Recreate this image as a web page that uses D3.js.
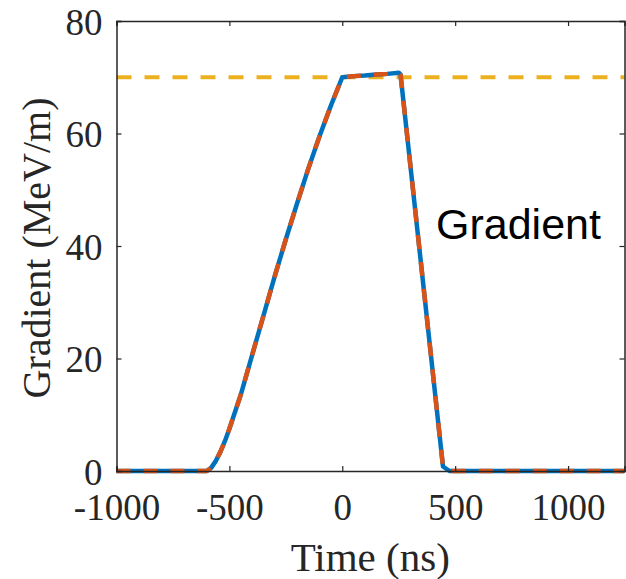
<!DOCTYPE html>
<html>
<head>
<meta charset="utf-8">
<script src="https://cdn.jsdelivr.net/npm/d3@7"></script>
<style>
    body { margin: 0; background: #fff; }
    svg { display: block; }
</style>
</head>
<body>
<svg id="chart" width="626" height="579"></svg>
<script>
// values
var time_ns = [-1000, -600, -580, -560, -540, -520, -500, -450, -400, -350, -300, -250, -200, -150, -100, -50, 0,
               50, 100, 150, 200, 250, 258, 446, 475, 1250];
var gradient = [0, 0, 0.6, 1.8, 3.4, 5.3, 7.5, 13.5, 20.5, 27.5, 34.5, 41.2, 47.6, 53.8, 59.6, 65, 70,
                70.2, 70.3, 70.5, 70.6, 70.8, 70.5, 0.8, 0, 0];
var target = 70;
var x_ticks = [-1000, -500, 0, 500, 1000];
var y_ticks = [0, 20, 40, 60, 80];
var x_domain = [-1000, 1250],
    y_domain = [0, 80];

function draw() {
    var svg = d3.select("#chart"),
        margins = {"left": 116.5, "right": 1.5, "top": 21, "bottom": 108},
        width = 626, height = 579,
        tick_font = "'Liberation Serif', 'Times New Roman', serif",
        frame = "#262626";

    var x = d3.scaleLinear().domain(x_domain).range([margins.left, width - margins.right]),
        y = d3.scaleLinear().domain(y_domain).range([height - margins.bottom, margins.top]);

    var data = time_ns.map((t, i) => [t, gradient[i]]);

    var line = d3.line().x(d => x(d[0])).y(d => y(d[1]));

    // target level
    svg.append("line")
        .attr("x1", x(x_domain[0])).attr("x2", x(x_domain[1]))
        .attr("y1", y(target)).attr("y2", y(target))
        .attr("stroke", "#EDB120").attr("stroke-width", 4)
        .attr("stroke-dasharray", "15,13");

    // two overlaid traces (blue solid + orange dashed)
    svg.append("path").datum(data)
        .attr("d", line).attr("fill", "none")
        .attr("stroke", "#0072BD").attr("stroke-width", 4.5)
        .attr("stroke-linejoin", "round");
    svg.append("path").datum(data)
        .attr("d", line).attr("fill", "none")
        .attr("stroke", "#D95319").attr("stroke-width", 4.5)
        .attr("stroke-linejoin", "round")
        .attr("stroke-dasharray", "14,13");

    // axes, ticks pointing inward like matlab
    var xb = svg.append("g").attr("transform", "translate(" + [0, y(0)] + ")")
        .call(d3.axisBottom(x).tickValues(x_ticks).tickSize(-5).tickPadding(23).tickFormat(d3.format("d")));
    var xt = svg.append("g").attr("transform", "translate(" + [0, y(80)] + ")")
        .call(d3.axisTop(x).tickValues(x_ticks).tickSize(-5).tickFormat(""));
    var yl = svg.append("g").attr("transform", "translate(" + [x(x_domain[0]), 0] + ")")
        .call(d3.axisLeft(y).tickValues(y_ticks).tickSize(-5).tickPadding(14));
    var yr = svg.append("g").attr("transform", "translate(" + [x(x_domain[1]), 0] + ")")
        .call(d3.axisRight(y).tickValues(y_ticks).tickSize(-5).tickFormat(""));

    [xb, xt, yl, yr].forEach(g => {
        g.select(".domain").attr("stroke", frame).attr("stroke-width", 1.5);
        g.selectAll(".tick line").attr("stroke", frame).attr("stroke-width", 1.2);
        g.selectAll("text").style("font-family", tick_font).style("font-size", "37px").attr("fill", "#262626");
    });
    xb.selectAll(".tick text").text(d => d < 0 ? "-" + Math.abs(d) : d);
    yl.selectAll(".tick text").attr("dy", "0.36em");

    // axis labels
    svg.append("text").attr("x", x(0) + 28).attr("y", 571)
        .attr("text-anchor", "middle")
        .style("font-family", tick_font).style("font-size", "41px").attr("fill", "#262626")
        .text("Time (ns)");
    svg.append("text")
        .attr("transform", "translate(" + [50, 248] + ") rotate(-90)")
        .attr("text-anchor", "middle")
        .style("font-family", tick_font).style("font-size", "40px").attr("fill", "#262626")
        .text("Gradient (MeV/m)");

    // annotation
    svg.append("text").attr("x", 436).attr("y", 239)
        .style("font-family", "'Liberation Sans', Arial, sans-serif").style("font-size", "43px")
        .attr("fill", "#000")
        .text("Gradient");
}

draw();
</script>
</body>
</html>
